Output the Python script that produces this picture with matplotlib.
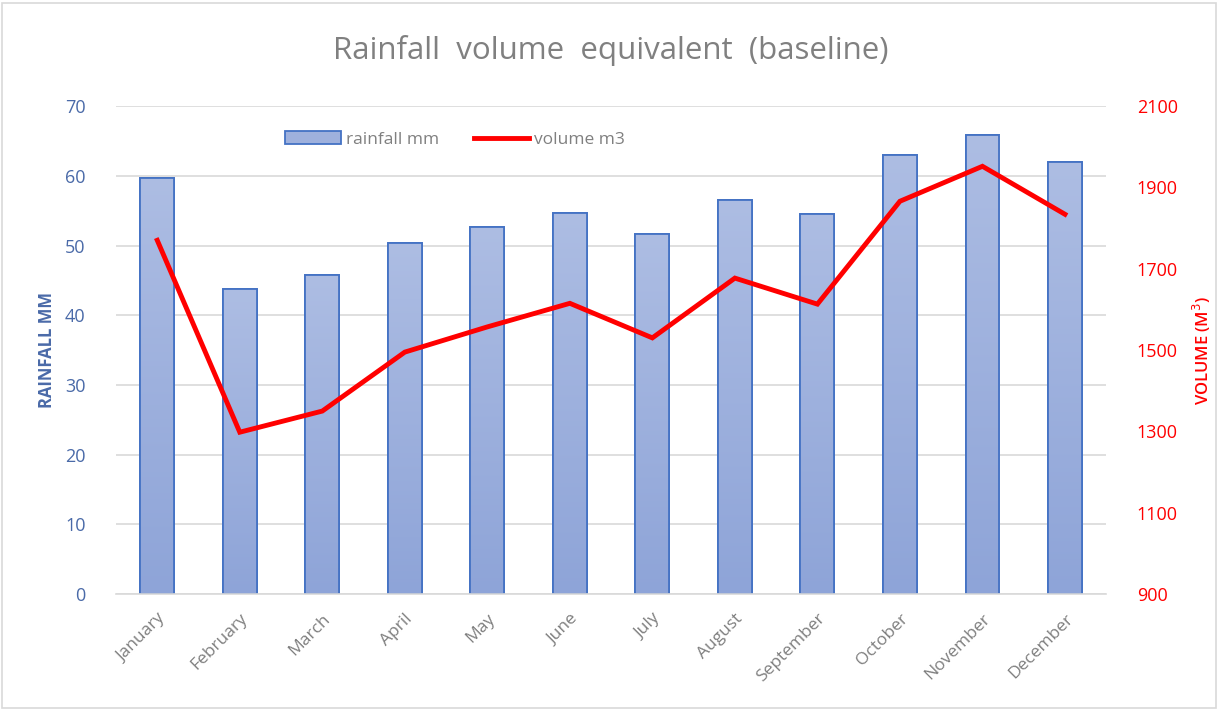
import numpy as np
import matplotlib.pyplot as plt
from matplotlib.patches import Rectangle
from matplotlib.colors import LinearSegmentedColormap

months = ["January", "February", "March", "April", "May", "June",
          "July", "August", "September", "October", "November", "December"]
rainfall_mm = [59.7, 43.7, 45.7, 50.4, 52.7, 54.7, 51.7, 56.6, 54.5, 63.0, 65.9, 62.0]
volume_m3 = [1770, 1298, 1350, 1495, 1557, 1615, 1530, 1677, 1613, 1866, 1952, 1834]

BLUE_TXT = "#4a6aa8"
BAR_EDGE = "#4472c4"
GREY = "#7f7f7f"

plt.rcParams['font.family'] = ['Open Sans', 'DejaVu Sans']

fig = plt.figure(figsize=(12.21, 7.17), dpi=100)
ax = fig.add_axes([0.095, 0.1715, 0.811, 0.6805])
ax2 = ax.twinx()

x = np.arange(len(months))
bars = ax.bar(x, rainfall_mm, width=0.41, color="#9fb1dd", edgecolor=BAR_EDGE,
              linewidth=1.3, zorder=2, label="rainfall mm")

# vertical gradient inside each bar
grad = np.linspace(0, 1, 256).reshape(-1, 1)
cmap = LinearSegmentedColormap.from_list("bar", ["#8ea4d8", "#adbde3"])
for b in bars:
    bx, by = b.get_x(), b.get_y()
    w, h = b.get_width(), b.get_height()
    im = ax.imshow(grad, extent=[bx, bx + w, by, by + h], origin="lower",
                   cmap=cmap, aspect="auto", zorder=2.1)
    im.set_clip_path(b)
    ax.add_patch(Rectangle((bx, by), w, h, fill=False, edgecolor=BAR_EDGE,
                           linewidth=1.3, zorder=2.2))

line, = ax2.plot(x, volume_m3, color="#ff0000", linewidth=3.5,
                 solid_joinstyle="miter", label="volume m3", zorder=3)

ax.set_xlim(-0.5, 11.5)
ax.set_ylim(0, 70)
ax.set_yticks(range(0, 71, 10))
ax2.set_ylim(900, 2100)
ax2.set_yticks(range(900, 2101, 200))

ax.grid(axis="y", color="#d9d9d9", linewidth=1.2, zorder=0)
ax.set_axisbelow(True)
for s in ["top", "left", "right"]:
    ax.spines[s].set_visible(False)
    ax2.spines[s].set_visible(False)
ax.spines["bottom"].set_color("#d9d9d9")
ax.spines["bottom"].set_linewidth(1.2)
ax2.spines["bottom"].set_visible(False)

ax.set_xticks(x)
ax.set_xticklabels(months, rotation=45, ha="right", rotation_mode="anchor",
                   color=GREY, fontsize=12.5)
ax.tick_params(axis="x", length=0, pad=12)
ax.tick_params(axis="y", length=0, labelsize=13, labelcolor=BLUE_TXT, pad=22)
ax2.tick_params(axis="y", length=0, labelsize=13, labelcolor="#ff0000", pad=22)

ax.set_ylabel("RAINFALL MM", color=BLUE_TXT, fontsize=12, fontweight="bold", labelpad=6)
ax2.set_ylabel("VOLUME (M$^3$)", color="#ff0000", fontsize=12, fontweight="semibold",
               labelpad=9)

fig.text(0.5, 0.93, "Rainfall  volume  equivalent  (baseline)", ha="center",
         va="center", fontsize=22.5, color="#808080")

handles = [bars, line]
ax.legend(handles, ["rainfall mm", "volume m3"], loc="upper left",
          bbox_to_anchor=(0.155, 0.98), ncol=2, frameon=False, fontsize=12.5,
          labelcolor="#808080", handlelength=3.2, handletextpad=0.3,
          columnspacing=2.0)

fig.add_artist(Rectangle((0.002, 0.012), 0.994, 0.984, transform=fig.transFigure,
                         fill=False, edgecolor="#d9d9d9", linewidth=1.2))

fig.savefig("out.png", dpi=100)
